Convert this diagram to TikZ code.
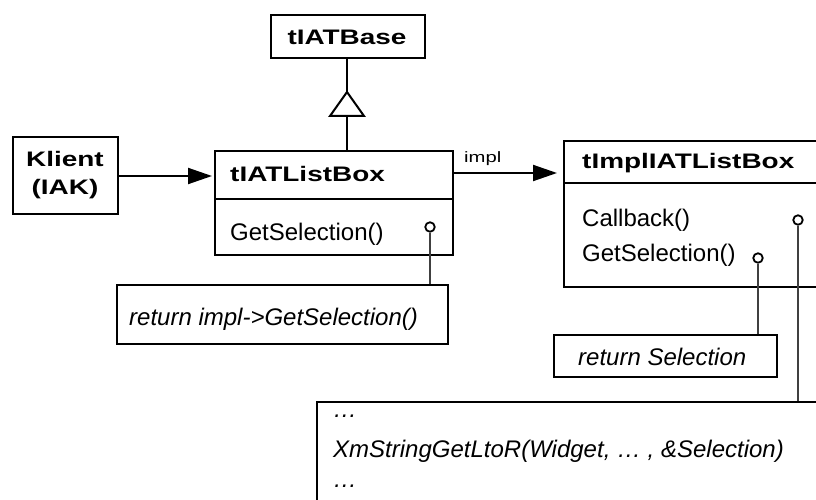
\documentclass[tikz,border=0pt]{standalone}
\usepackage{fontspec}
\setmainfont{Liberation Sans}
\newfontface\titlefont{Liberation Sans Bold}[FakeStretch=1.33]
\newfontface\labelfont{Liberation Sans}[FakeStretch=1.35]
\usetikzlibrary{arrows.meta}

\begin{document}
\begin{tikzpicture}[x=1pt,y=-1pt,
  boxline/.style={line width=2pt, black},
  box/.style={boxline, draw, inner sep=0pt, anchor=north west},
  link/.style={line width=2pt, draw=black!75},
  pin/.style={circle, draw=black, line width=1.8pt, fill=white, minimum size=9.5pt, inner sep=0pt},
  title/.style={anchor=base west, inner sep=0pt, font=\titlefont\fontsize{21}{21}\selectfont},
  ctitle/.style={anchor=base, inner sep=0pt, font=\titlefont\fontsize{21}{21}\selectfont},
  txt/.style={anchor=base west, inner sep=0pt, font=\fontsize{24}{24}\selectfont},
  itxt/.style={anchor=base west, inner sep=0pt, font=\itshape\fontsize{24}{24}\selectfont},
  assoc/.style={line width=2pt, -{Triangle[length=24pt,width=16pt]}},
]
\useasboundingbox (0,0) rectangle (816,500);
\clip (0,0) rectangle (816,500);

% base class
\node[box, minimum width=154pt, minimum height=43pt] (base) at (270,14) {};
\node[ctitle] (basetitle) at (347,45) {tIATBase};

% client
\node[box, minimum width=105pt, minimum height=77pt] (klient) at (12,136) {};
\node[ctitle] (kl1) at (65,166) {Klient};
\node[ctitle] (kl2) at (65,194) {(IAK)};

% tIATListBox
\node[box, minimum width=238pt, minimum height=104pt] (lb) at (214,150) {};
\node[title] (lbtitle) at (230,181) {tIATListBox};
\draw[boxline] (lb.west |- 0,199) -- (lb.east |- 0,199);
\node[txt] (lbget) at (230,240) {GetSelection()};
\node[pin] (lbpin) at (430,227) {};

% tImplIATListBox
\node[box, minimum width=270pt, minimum height=146pt] (impl) at (563,140) {};
\node[title] (impltitle) at (582,168) {tImplIATListBox};
\draw[boxline] (impl.west |- 0,183) -- (impl.east |- 0,183);
\node[txt] (implcb) at (582,226) {Callback()};
\node[txt] (implget) at (582,261) {GetSelection()};
\node[pin] (cbpin) at (798,220) {};
\node[pin] (getpin) at (758,258) {};

% notes
\node[box, minimum width=331pt, minimum height=59pt] (note1) at (116,284) {};
\node[itxt] (note1t) at (129,325) {return impl->GetSelection()};

\node[box, minimum width=223pt, minimum height=42pt] (note2) at (553,334) {};
\node[itxt] (note2t) at (578,365) {return Selection};

\node[box, minimum width=520pt, minimum height=130pt] (note3) at (316,401) {};
\node[itxt] (note3a) at (333,417) {\dots};
\node[itxt] (note3b) at (333,457) {XmStringGetLtoR(Widget, \dots\ , \&Selection)};
\node[itxt] (note3c) at (333,487) {\dots};

% generalization
\coordinate (apex) at (347,92);
\coordinate (tribase) at (347,116);
\draw[boxline] (base.south -| apex) -- (apex);
\draw[boxline] (tribase) -- (tribase |- lb.north);
\draw[boxline, fill=white] (apex) -- (364,116) -- (330,116) -- cycle;

% associations
\draw[assoc, shorten >=2pt] (klient.east |- 0,176) -- (lb.west |- 0,176);
\draw[assoc, shorten >=6pt] (lb.east |- 0,173) -- (impl.west |- 0,173);
\node[anchor=base west, inner sep=0pt, font=\labelfont\fontsize{15}{15}\selectfont] (impllabel) at (464,162) {impl};

% note attachments
\draw[link] (lbpin.south) -- (lbpin.south |- note1.north);
\draw[link] (getpin.south) -- (getpin.south |- note2.north);
\draw[link] (cbpin.south) -- (cbpin.south |- note3.north);
\end{tikzpicture}
\end{document}
